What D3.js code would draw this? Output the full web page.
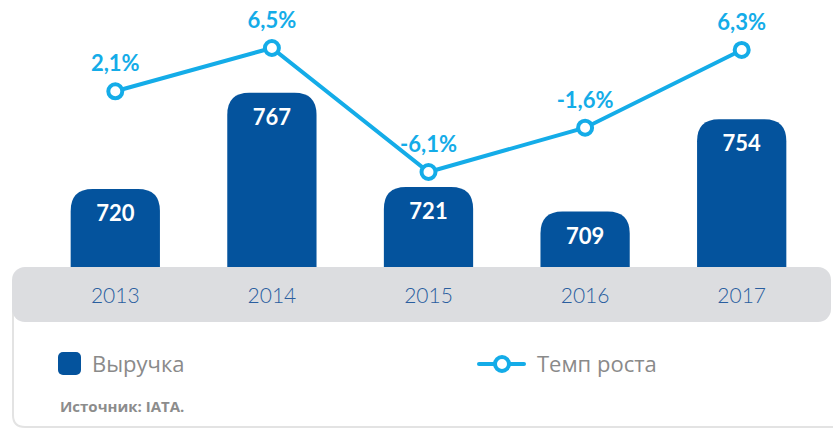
<!DOCTYPE html>
<html>
<head>
<meta charset="utf-8">
<script src="https://cdnjs.cloudflare.com/ajax/libs/d3/7.8.5/d3.min.js"></script>
<style>
  html, body { margin: 0; padding: 0; background: #fff; }
  svg { display: block; font-family: Lato, "Open Sans", sans-serif; }
</style>
</head>
<body>
<svg id="chart" width="833" height="429"></svg>
<script>
// chart data
var years = ['2013', '2014', '2015', '2016', '2017'];
var revenue = [720, 767, 721, 709, 754];
var growth = [2.1, 6.5, -6.1, -1.6, 6.3];
var growthLabels = ['2,1%', '6,5%', '-6,1%', '-1,6%', '6,3%'];
var legendLabels = ['Выручка', 'Темп роста'];
var sourceText = 'Источник: IATA.';

var barColor = '#04539d';
var lineColor = '#14ace8';
var W = 833, H = 429;

var svg = d3.select('#chart');

// card border (left + bottom)
svg.append('path')
  .attr('d', 'M13,300 L13,415 Q13,427 25,427 L833,427')
  .attr('fill', 'none')
  .attr('stroke', '#e3e3e3')
  .attr('stroke-width', 2);

var x = d3.scaleBand().domain(years).range([37, 820]).paddingInner(0.43).paddingOuter(0.215);
var yBar = d3.scaleLinear().domain([681.5, 800]).range([268, 25]);
var yLine = d3.scaleLinear().domain([-6.1, 6.5]).range([172, 48]);

// bars with rounded tops
function topRounded(x0, y0, w, h, r) {
  return 'M' + x0 + ',' + (y0 + h) +
    'L' + x0 + ',' + (y0 + r) +
    'Q' + x0 + ',' + y0 + ' ' + (x0 + r) + ',' + y0 +
    'L' + (x0 + w - r) + ',' + y0 +
    'Q' + (x0 + w) + ',' + y0 + ' ' + (x0 + w) + ',' + (y0 + r) +
    'L' + (x0 + w) + ',' + (y0 + h) + 'Z';
}

svg.selectAll('path.bar')
  .data(revenue)
  .enter()
  .append('path')
  .attr('class', 'bar')
  .attr('fill', barColor)
  .attr('d', function (d, i) {
    return topRounded(x(years[i]), yBar(d), x.bandwidth(), 272 - yBar(d), 22);
  });

svg.selectAll('text.barlab')
  .data(revenue)
  .enter()
  .append('text')
  .attr('class', 'barlab')
  .attr('x', function (d, i) { return x(years[i]) + x.bandwidth() / 2; })
  .attr('y', function (d) { return yBar(d) + 32; })
  .attr('text-anchor', 'middle')
  .attr('fill', '#fff')
  .attr('font-weight', 'bold')
  .attr('font-size', 22)
  .text(function (d) { return d; });

// grey axis band
svg.append('rect')
  .attr('x', 12).attr('y', 267)
  .attr('width', 819).attr('height', 55)
  .attr('rx', 13)
  .attr('fill', '#dcdde0');

svg.selectAll('text.year')
  .data(years)
  .enter()
  .append('text')
  .attr('class', 'year')
  .attr('x', function (d) { return x(d) + x.bandwidth() / 2; })
  .attr('y', 303)
  .attr('text-anchor', 'middle')
  .attr('fill', '#2a5e9f')
  .attr('font-size', 21)
  .attr('font-weight', 300)
  .text(function (d) { return d; });

// growth line
var line = d3.line()
  .x(function (d, i) { return x(years[i]) + x.bandwidth() / 2; })
  .y(function (d) { return yLine(d); });

svg.append('path')
  .attr('d', line(growth))
  .attr('fill', 'none')
  .attr('stroke', lineColor)
  .attr('stroke-width', 4);

svg.selectAll('circle.pt')
  .data(growth)
  .enter()
  .append('circle')
  .attr('class', 'pt')
  .attr('cx', function (d, i) { return x(years[i]) + x.bandwidth() / 2; })
  .attr('cy', function (d) { return yLine(d); })
  .attr('r', 7)
  .attr('fill', '#fff')
  .attr('stroke', lineColor)
  .attr('stroke-width', 4);

svg.selectAll('text.pct')
  .data(growth)
  .enter()
  .append('text')
  .attr('class', 'pct')
  .attr('x', function (d, i) { return x(years[i]) + x.bandwidth() / 2; })
  .attr('y', function (d) { return yLine(d) - 20; })
  .attr('text-anchor', 'middle')
  .attr('fill', lineColor)
  .attr('font-weight', 'bold')
  .attr('font-size', 22)
  .text(function (d, i) { return growthLabels[i]; });

// legend
svg.append('rect')
  .attr('x', 58).attr('y', 352)
  .attr('width', 23).attr('height', 23)
  .attr('rx', 5)
  .attr('fill', barColor);

svg.append('text')
  .attr('x', 92).attr('y', 372)
  .attr('fill', '#8a8a8a')
  .attr('font-family', '"Open Sans", sans-serif')
  .attr('font-size', 22)
  .text(legendLabels[0]);

svg.append('line')
  .attr('x1', 479).attr('x2', 524)
  .attr('y1', 364).attr('y2', 364)
  .attr('stroke', lineColor)
  .attr('stroke-width', 4)
  .attr('stroke-linecap', 'round');

svg.append('circle')
  .attr('cx', 502).attr('cy', 364)
  .attr('r', 7)
  .attr('fill', '#fff')
  .attr('stroke', lineColor)
  .attr('stroke-width', 4);

svg.append('text')
  .attr('x', 537).attr('y', 372)
  .attr('fill', '#8a8a8a')
  .attr('font-family', '"Open Sans", sans-serif')
  .attr('font-size', 22)
  .text(legendLabels[1]);

svg.append('text')
  .attr('x', 60).attr('y', 412)
  .attr('fill', '#8c8c8c')
  .attr('font-family', '"Open Sans", sans-serif')
  .attr('font-size', 15)
  .attr('font-weight', 'bold')
  .text(sourceText);
</script>
</body>
</html>
